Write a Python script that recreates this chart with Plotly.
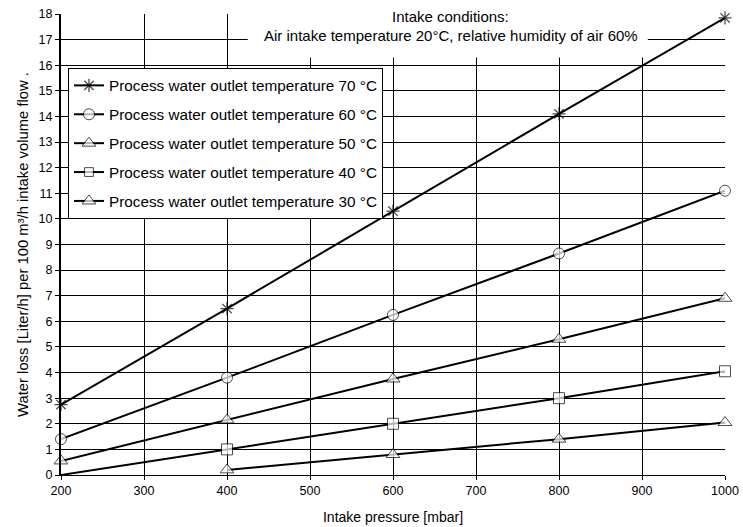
import plotly.graph_objects as go

pressure = [200, 400, 600, 800, 1000]
t70 = [2.75, 6.5, 10.3, 14.1, 17.85]
t60 = [1.4, 3.8, 6.25, 8.65, 11.1]
t50 = [0.55, 2.15, 3.75, 5.3, 6.9]
t40 = [0.0, 1.0, 2.0, 3.0, 4.05]
p30 = [400, 600, 800, 1000]
t30 = [0.2, 0.8, 1.4, 2.05]

names = ["Process water outlet temperature 70 °C",
         "Process water outlet temperature 60 °C",
         "Process water outlet temperature 50 °C",
         "Process water outlet temperature 40 °C",
         "Process water outlet temperature 30 °C"]

fig = go.Figure()
series = [
    (pressure, t70, "asterisk-open", 11, 1.3, "black"),
    (pressure, t60, "circle", 11, 1, "white"),
    (pressure, t50, "triangle-up", 12, 1, "white"),
    (pressure, t40, "square", 11, 1, "white"),
    (p30, t30, "triangle-up", 12, 1, "white"),
]
for i, ((xs, ys, sym, sz, lw, mc), nm) in enumerate(zip(series, names)):
    sizes = [sz] * len(xs)
    if i == 3:
        sizes[0] = 0
    fig.add_trace(go.Scatter(
        x=xs, y=ys, name=nm, mode="lines+markers", legendgroup=nm,
        line=dict(color="black", width=2),
        marker=dict(symbol=sym, size=sizes, color=mc,
                    line=dict(color="black", width=lw)),
        cliponaxis=False,
    ))

fig.add_shape(type="rect", xref="x", yref="y",
              x0=425, x1=907, y0=16.3, y1=18.5,
              fillcolor="white", line=dict(width=0), layer="between")
fig.add_annotation(text="Intake conditions:", xref="paper", yref="paper",
                   x=0.587, y=0.9935, yanchor="middle", showarrow=False,
                   font=dict(size=15, color="black"))
fig.add_annotation(text="Air intake temperature 20°C, relative humidity of air 60%",
                   xref="paper", yref="paper", x=0.587, y=0.954, yanchor="middle",
                   showarrow=False, font=dict(size=15, color="black"))

fig.update_layout(
    width=743, height=527,
    margin=dict(l=61, r=18, t=14, b=52),
    paper_bgcolor="white", plot_bgcolor="white",
    font=dict(family="Liberation Sans, Arial", size=12, color="black"),
    showlegend=True,
    legend=dict(x=0.0105, y=0.883, xanchor="left", yanchor="top",
                bgcolor="white", bordercolor="black", borderwidth=1,
                font=dict(size=15.3), tracegroupgap=6, traceorder="grouped"),
    xaxis=dict(range=[200, 1000], dtick=100, tick0=200, automargin=False,
               title=dict(text="Intake pressure [mbar]", font=dict(size=14), standoff=15),
               showgrid=True, gridcolor="black", gridwidth=1,
               showline=True, linecolor="black", linewidth=1,
               ticks="outside", ticklen=4, tickcolor="black",
               zeroline=False, tickfont=dict(size=12.5)),
    yaxis=dict(range=[0, 18], dtick=1, tick0=0, automargin=False,
               title=dict(text="Water loss [Liter/h] per 100 m³/h intake volume flow .",
                          font=dict(size=14.8), standoff=6),
               showgrid=True, gridcolor="black", gridwidth=1,
               showline=True, linecolor="black", linewidth=2,
               ticks="outside", ticklen=4, tickcolor="black",
               zeroline=False, tickfont=dict(size=12.5)),
)

fig.write_html("out.html", config={"displayModeBar": False},
               post_script="document.body.style.margin='0';")
